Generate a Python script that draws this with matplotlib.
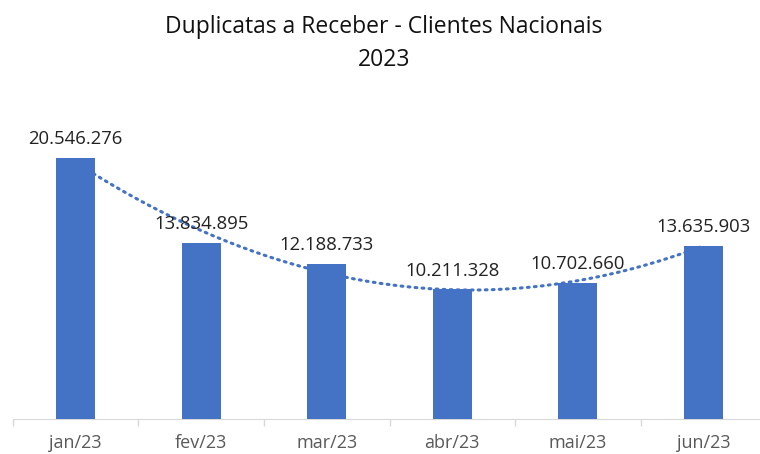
import numpy as np
import matplotlib
matplotlib.use("Agg")
import matplotlib.pyplot as plt

meses = ["jan/23", "fev/23", "mar/23", "abr/23", "mai/23", "jun/23"]
valores = [20546276, 13834895, 12188733, 10211328, 10702660, 13635903]
titulo = "Duplicatas a Receber - Clientes Nacionais\n2023"

plt.rcParams["font.family"] = ["Open Sans", "DejaVu Sans"]

cor = "#4472C4"
x = np.arange(len(meses))
fig = plt.figure(figsize=(7.6, 4.54), dpi=100)
# plot area in figure fractions, right edge runs past the picture like the original
ax = fig.add_axes([12.75 / 760, (454 - 419) / 454, 753.5 / 760, 318 / 454])

ax.bar(x, valores, width=0.31, color=cor, zorder=3)

# trendline: polynomial order 2 fitted on the values
coef = np.polyfit(x + 1, valores, 2)
xt = np.linspace(0, len(meses) - 1, 200)
ax.plot(xt, np.polyval(coef, xt + 1), color=cor, lw=2.2,
        linestyle=(0, (0.6, 1.7)), dash_capstyle="round", zorder=2)

for xi, v in zip(x, valores):
    rotulo = f"{v:,}".replace(",", ".")
    ax.text(xi, v + 750000, rotulo, ha="center", va="bottom", fontsize=13.3, color="#222222")

ax.set_xlim(-0.5, len(meses) - 0.5)
ax.set_ylim(0, 25000000)
ax.set_yticks([])
ax.set_xticks(x)
ax.set_xticklabels(meses, fontsize=13, color="#595959")
ax.set_xticks(np.arange(-0.5, len(meses)), minor=True)
ax.tick_params(axis="x", which="major", length=0, pad=11)
ax.tick_params(axis="x", which="minor", length=5, color="#D9D9D9", width=1)
for s in ["top", "right", "left"]:
    ax.spines[s].set_visible(False)
ax.spines["bottom"].set_color("#D9D9D9")

fig.text(0.505, 0.966, titulo, ha="center", va="top", fontsize=16.5, color="#111111",
         linespacing=1.45)

fig.savefig("out.png", dpi=100)
